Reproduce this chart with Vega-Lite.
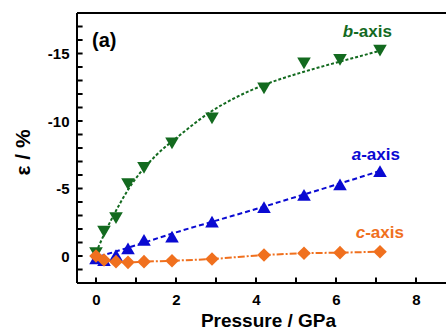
{
  "$schema": "https://vega.github.io/schema/vega-lite/v6.json",
  "width": 369,
  "height": 270,
  "autosize": {"type": "none"},
  "padding": {"left": 77, "top": 13, "right": 0, "bottom": 46},
  "background": "white",
  "config": {
    "view": {"stroke": null},
    "font": "Liberation Sans"
  },
  "datasets": {
    "points": [
      {"s": "b", "P": 0, "e": -0.22},
      {"s": "b", "P": 0.2, "e": -1.8},
      {"s": "b", "P": 0.5, "e": -2.81},
      {"s": "b", "P": 0.8, "e": -5.33},
      {"s": "b", "P": 1.2, "e": -6.52},
      {"s": "b", "P": 1.9, "e": -8.35},
      {"s": "b", "P": 2.9, "e": -10.2},
      {"s": "b", "P": 4.2, "e": -12.42},
      {"s": "b", "P": 5.2, "e": -14.27},
      {"s": "b", "P": 6.1, "e": -14.52},
      {"s": "b", "P": 7.1, "e": -15.21},
      {"s": "a", "P": 0, "e": 0.17},
      {"s": "a", "P": 0.2, "e": 0.3},
      {"s": "a", "P": 0.5, "e": -0.07},
      {"s": "a", "P": 0.8, "e": -0.57},
      {"s": "a", "P": 1.2, "e": -1.19},
      {"s": "a", "P": 1.9, "e": -1.43},
      {"s": "a", "P": 2.9, "e": -2.54},
      {"s": "a", "P": 4.2, "e": -3.62},
      {"s": "a", "P": 5.2, "e": -4.52},
      {"s": "a", "P": 6.1, "e": -5.3},
      {"s": "a", "P": 7.1, "e": -6.28},
      {"s": "c", "P": 0, "e": 0},
      {"s": "c", "P": 0.2, "e": 0.3},
      {"s": "c", "P": 0.5, "e": 0.42},
      {"s": "c", "P": 0.8, "e": 0.47},
      {"s": "c", "P": 1.2, "e": 0.42},
      {"s": "c", "P": 1.9, "e": 0.35},
      {"s": "c", "P": 2.9, "e": 0.22},
      {"s": "c", "P": 4.2, "e": -0.07},
      {"s": "c", "P": 5.2, "e": -0.2},
      {"s": "c", "P": 6.1, "e": -0.25},
      {"s": "c", "P": 7.1, "e": -0.32}
    ],
    "fits": [
      {"s": "b", "P": 0, "e": -0.25},
      {"s": "b", "P": 0.25, "e": -1.9},
      {"s": "b", "P": 0.5, "e": -3.35},
      {"s": "b", "P": 0.8, "e": -4.9},
      {"s": "b", "P": 1.1, "e": -6.15},
      {"s": "b", "P": 1.5, "e": -7.45},
      {"s": "b", "P": 2.1, "e": -8.96},
      {"s": "b", "P": 2.85, "e": -10.65},
      {"s": "b", "P": 3.5, "e": -11.75},
      {"s": "b", "P": 4.2, "e": -12.67},
      {"s": "b", "P": 5.2, "e": -13.65},
      {"s": "b", "P": 6.1, "e": -14.4},
      {"s": "b", "P": 7.1, "e": -15.2},
      {"s": "a", "P": -0.1, "e": 0.2},
      {"s": "a", "P": 1, "e": -0.8},
      {"s": "a", "P": 2, "e": -1.75},
      {"s": "a", "P": 3, "e": -2.62},
      {"s": "a", "P": 4, "e": -3.48},
      {"s": "a", "P": 5, "e": -4.38},
      {"s": "a", "P": 6, "e": -5.28},
      {"s": "a", "P": 7.1, "e": -6.3},
      {"s": "c", "P": 0, "e": 0},
      {"s": "c", "P": 0.2, "e": 0.3},
      {"s": "c", "P": 0.5, "e": 0.42},
      {"s": "c", "P": 0.8, "e": 0.47},
      {"s": "c", "P": 1.2, "e": 0.42},
      {"s": "c", "P": 1.9, "e": 0.35},
      {"s": "c", "P": 2.9, "e": 0.22},
      {"s": "c", "P": 4.2, "e": -0.07},
      {"s": "c", "P": 5.2, "e": -0.2},
      {"s": "c", "P": 6.1, "e": -0.25},
      {"s": "c", "P": 7.1, "e": -0.32}
    ],
    "labels": [
      {"s": "b", "P": 6.43, "e": -16.22, "letter": "b"},
      {"s": "a", "P": 6.63, "e": -7.11, "letter": "a"},
      {"s": "c", "P": 6.73, "e": -1.31, "letter": "c"}
    ],
    "panel": [
      {"P": -0.1, "e": -15.94, "t": "(a)"}
    ],
    "frame": [
      {"P": -0.475, "P2": 8.75, "e": -18, "e2": -18},
      {"P": -0.475, "P2": 8.75, "e": 2, "e2": 2},
      {"P": -0.475, "P2": -0.475, "e": 2, "e2": -18}
    ],
    "xticks": [
      {"P": 0, "e": 1.81}, {"P": 1, "e": 1.81}, {"P": 2, "e": 1.81}, {"P": 3, "e": 1.81}, {"P": 4, "e": 1.81},
      {"P": 5, "e": 1.81}, {"P": 6, "e": 1.81}, {"P": 7, "e": 1.81}, {"P": 8, "e": 1.81}
    ],
    "yticks": [
      {"P": -0.41, "e": 1}, {"P": -0.41, "e": 0}, {"P": -0.41, "e": -1}, {"P": -0.41, "e": -2},
      {"P": -0.41, "e": -3}, {"P": -0.41, "e": -4}, {"P": -0.41, "e": -5}, {"P": -0.41, "e": -6},
      {"P": -0.41, "e": -7}, {"P": -0.41, "e": -8}, {"P": -0.41, "e": -9}, {"P": -0.41, "e": -10},
      {"P": -0.41, "e": -11}, {"P": -0.41, "e": -12}, {"P": -0.41, "e": -13}, {"P": -0.41, "e": -14},
      {"P": -0.41, "e": -15}, {"P": -0.41, "e": -16}, {"P": -0.41, "e": -17}
    ]
  },
  "encoding": {
    "x": {
      "field": "P", "type": "quantitative", "title": "Pressure / GPa",
      "scale": {"domain": [-0.475, 8.75], "nice": false, "zero": false},
      "axis": {
        "grid": false,
        "domain": false,
        "ticks": false,
        "values": [0, 2, 4, 6, 8],
        "labelExpr": "'' + datum.value",
        "labelOverlap": false,
        "labelFlush": false,
        "labelColor": "black",
        "labelFont": "Liberation Sans",
        "labelFontSize": 15,
        "labelFontWeight": "bold",
        "labelPadding": 9,
        "titleColor": "black",
        "titleFont": "Liberation Sans",
        "titleFontWeight": "bold",
        "titleFontSize": 19,
        "titleX": 191,
        "titleY": 28,
        "titleBaseline": "top",
        "titleAnchor": "middle"
      }
    },
    "y": {
      "field": "e", "type": "quantitative", "title": "ε / %",
      "scale": {"domain": [2, -18], "nice": false, "zero": false},
      "axis": {
        "grid": false,
        "domain": false,
        "ticks": false,
        "values": [0, -5, -10, -15],
        "labelExpr": "'' + datum.value",
        "labelOverlap": false,
        "labelFlush": false,
        "labelColor": "black",
        "labelFont": "Liberation Sans",
        "labelFontSize": 15,
        "labelFontWeight": "bold",
        "labelPadding": 8,
        "titleColor": "black",
        "titleFont": "Liberation Sans",
        "titleFontWeight": "bold",
        "titleFontSize": 21,
        "titleAngle": 270,
        "titleX": -54,
        "titleY": 139,
        "titleBaseline": "middle",
        "titleAlign": "center"
      }
    }
  },
  "layer": [
    {
      "data": {"name": "fits"},
      "mark": {"type": "line", "strokeWidth": 2, "interpolate": "monotone"},
      "encoding": {
        "color": {"field": "s", "type": "nominal", "scale": {"domain": ["a", "b", "c"], "range": ["#0a0ad2", "#136a1f", "#f0701e"]}, "legend": null},
        "strokeDash": {"field": "s", "type": "nominal", "scale": {"domain": ["a", "b", "c"], "range": [[5, 3], [3, 2], [7, 2, 2, 2]]}, "legend": null}
      }
    },
    {
      "data": {"name": "points"},
      "mark": {"type": "point", "filled": true, "opacity": 1, "size": 185, "strokeWidth": 0},
      "encoding": {
        "color": {"field": "s", "type": "nominal", "scale": {"domain": ["a", "b", "c"], "range": ["#0a0ad2", "#136a1f", "#f0701e"]}, "legend": null},
        "shape": {"field": "s", "type": "nominal", "scale": {"domain": ["a", "b", "c"], "range": ["triangle-up", "triangle-down", "diamond"]}, "legend": null}
      }
    },
    {
      "data": {"name": "frame"},
      "mark": {"type": "rule", "color": "black", "strokeWidth": 2},
      "encoding": {
        "x2": {"field": "P2"},
        "y2": {"field": "e2"}
      }
    },
    {
      "data": {"name": "xticks"},
      "mark": {"type": "tick", "orient": "vertical", "color": "black", "opacity": 1, "size": 6, "thickness": 2},
      "encoding": {}
    },
    {
      "data": {"name": "yticks"},
      "mark": {"type": "tick", "orient": "horizontal", "color": "black", "opacity": 1, "size": 6, "thickness": 2},
      "encoding": {}
    },
    {
      "data": {"name": "labels"},
      "mark": {"type": "text", "align": "right", "baseline": "alphabetic", "fontSize": 17, "fontWeight": "bold", "fontStyle": "italic", "font": "Liberation Sans"},
      "encoding": {
        "text": {"field": "letter"},
        "color": {"field": "s", "type": "nominal", "scale": {"domain": ["a", "b", "c"], "range": ["#0a0ad2", "#136a1f", "#f0701e"]}, "legend": null}
      }
    },
    {
      "data": {"name": "labels"},
      "mark": {"type": "text", "align": "left", "baseline": "alphabetic", "fontSize": 17, "fontWeight": "bold", "font": "Liberation Sans", "text": "-axis"},
      "encoding": {
        "color": {"field": "s", "type": "nominal", "scale": {"domain": ["a", "b", "c"], "range": ["#0a0ad2", "#136a1f", "#f0701e"]}, "legend": null}
      }
    },
    {
      "data": {"name": "panel"},
      "mark": {"type": "text", "align": "left", "baseline": "middle", "fontSize": 20, "fontWeight": "bold", "font": "Liberation Sans", "color": "black"},
      "encoding": {
        "text": {"field": "t"}
      }
    }
  ]
}
